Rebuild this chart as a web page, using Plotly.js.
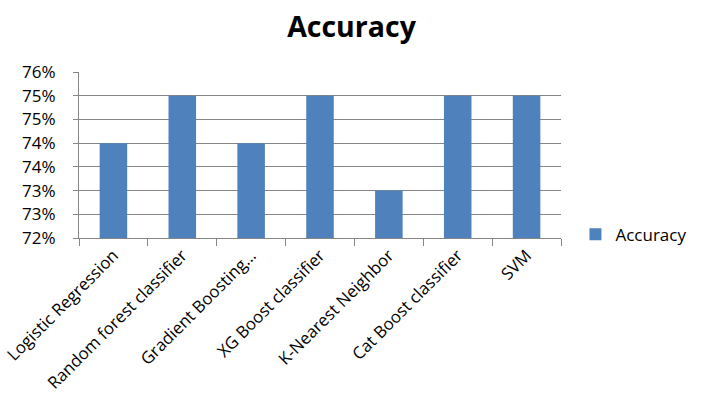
<!DOCTYPE html>
<html>
<head>
<meta charset="utf-8">
<script src="https://cdn.plot.ly/plotly-3.0.1.min.js"></script>
<style>html,body{margin:0;padding:0;background:#fff;}#chart{width:703px;height:410px;}</style>
</head>
<body>
<div id="chart"></div>
<script>
const categories = ["Logistic Regression","Random forest classifier","Gradient Boosting…","XG Boost classifier","K-Nearest Neighbor","Cat Boost classifier","SVM"];
const accuracy = [0.74, 0.75, 0.74, 0.75, 0.73, 0.75, 0.75];
const yTickVals = [0.72, 0.725, 0.73, 0.735, 0.74, 0.745, 0.75, 0.755];
const yTickText = ["72%","73%","73%","74%","74%","75%","75%","76%"];

const trace = {
  type: "bar",
  name: "Accuracy",
  x: categories,
  y: accuracy,
  marker: {color: "#4F81BD"},
  width: 0.4
};

const layout = {
  width: 703, height: 410,
  margin: {l: 79, r: 135, t: 72, b: 172},
  paper_bgcolor: "#fff", plot_bgcolor: "#fff",
  font: {family: "'Open Sans', Lato, sans-serif", size: 16, color: "#000"},
  title: {text: "<b>Accuracy</b>", font: {size: 28.5, color: "#000"}, x: 0.5, xanchor: "center", y: 0.935, yanchor: "middle"},
  xaxis: {
    type: "category", tickangle: -45, showgrid: false,
    showline: true, linecolor: "#868686", linewidth: 1,
    ticks: "outside", tickson: "boundaries", ticklen: 7, tickcolor: "#868686",
    tickfont: {size: 16.8, color: "#000"}, automargin: false
  },
  yaxis: {
    range: [0.72, 0.755], tickvals: yTickVals, ticktext: yTickText,
    showgrid: true, gridcolor: "#868686", gridwidth: 1,
    showline: true, linecolor: "#868686", linewidth: 1,
    ticks: "outside", ticklen: 5, tickcolor: "#868686", ticklabelstandoff: 14,
    tickfont: {size: 17, color: "#000"}, zeroline: false, automargin: false
  },
  showlegend: true,
  legend: {x: 1.03, xanchor: "left", y: 0.02, yanchor: "middle", font: {size: 17, color: "#000"}, itemwidth: 30, bgcolor: "rgba(0,0,0,0)"},
  bargap: 0.6
};

Plotly.newPlot("chart", [trace], layout, {displayModeBar: false, staticPlot: true});
</script>
</body>
</html>
